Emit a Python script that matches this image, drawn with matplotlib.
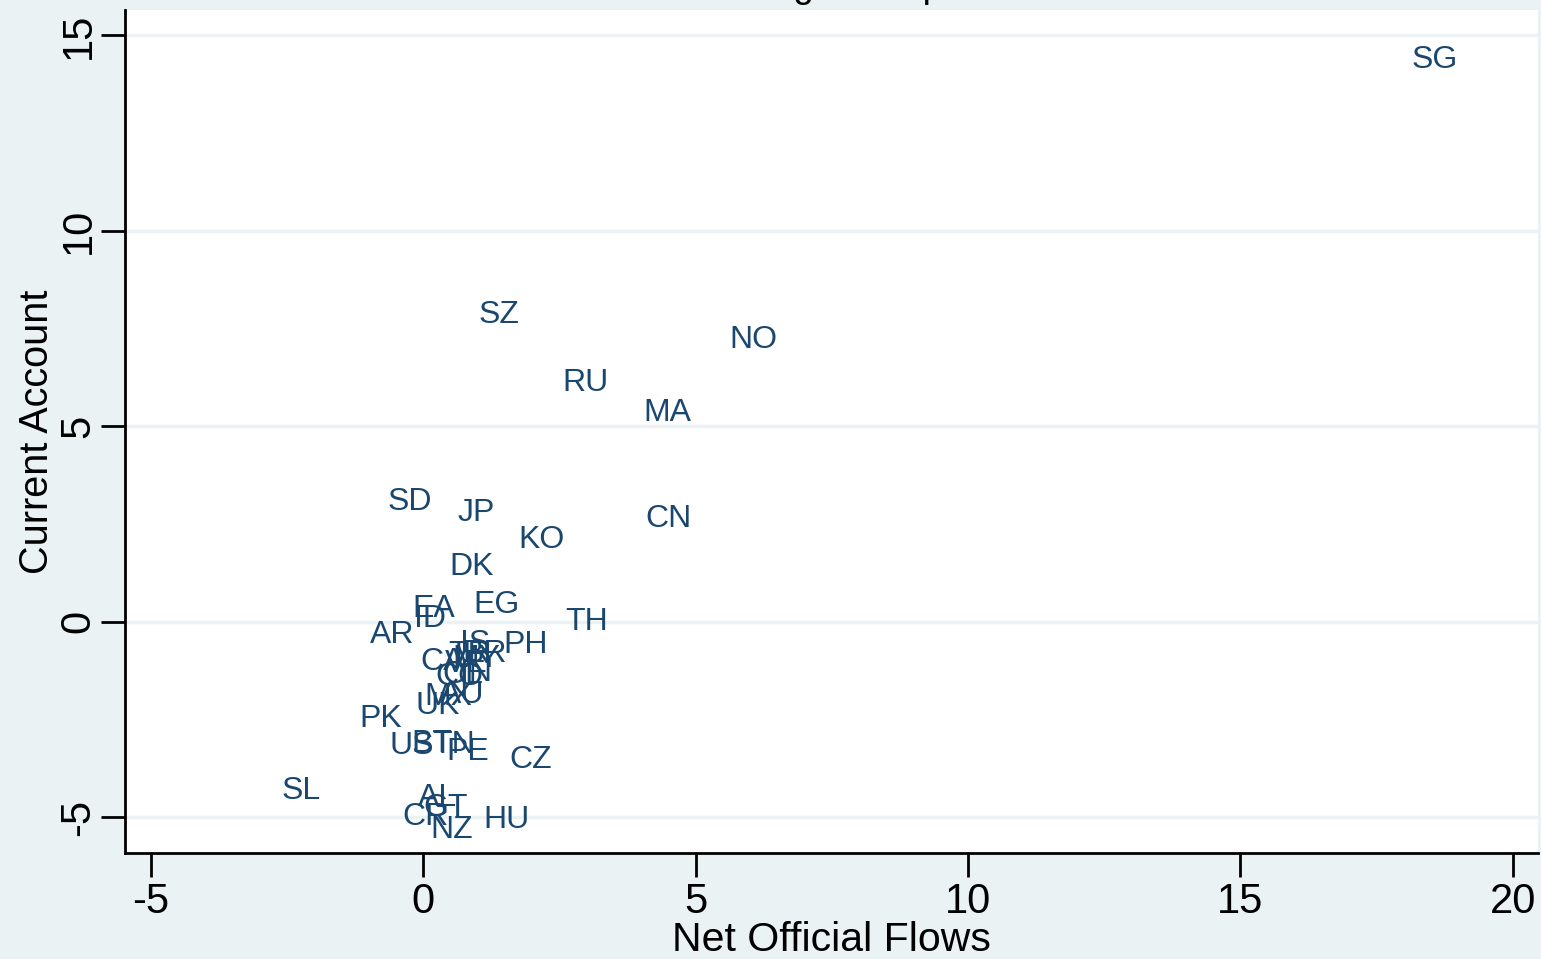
import matplotlib
matplotlib.use("Agg")
import matplotlib.pyplot as plt

plt.rcParams['font.family'] = ['Liberation Sans', 'DejaVu Sans']

countries = ["SG", "SZ", "NO", "RU", "MA", "SD", "JP", "CN", "KO", "DK",
             "EG", "EA", "ID", "AR", "TH", "IS", "PH", "CA", "TR", "MY",
             "BR", "VE", "CO", "CL", "IN", "MX", "UK", "AU", "PK", "US",
             "BT", "TN", "PE", "CZ", "SL", "AL", "GT", "CR", "NZ", "HU"]
net_official_flows = [18.07, 0.94, 5.54, 2.48, 3.96, -0.72, 0.55, 4.00, 1.67, 0.40,
                      0.84, -0.28, -0.24, -1.05, 2.53, 0.61, 1.39, -0.13, 0.39, 0.46,
                      0.64, 0.33, 0.15, 0.28, 0.61, -0.06, -0.22, 0.24, -1.25, -0.70,
                      -0.29, 0.09, 0.35, 1.50, -2.68, -0.17, -0.07, -0.46, 0.06, 1.03]
current_account = [14.42, 7.90, 7.26, 6.16, 5.40, 3.12, 2.84, 2.69, 2.15, 1.46,
                   0.49, 0.38, 0.13, -0.28, 0.05, -0.51, -0.54, -0.97, -0.79, -0.90,
                   -0.77, -1.02, -1.36, -1.30, -1.25, -1.87, -2.10, -1.82, -2.43, -3.12,
                   -3.07, -3.09, -3.27, -3.48, -4.27, -4.45, -4.71, -4.94, -5.27, -5.01]
x_ticks = [-5, 0, 5, 10, 15, 20]
y_ticks = [-5, 0, 5, 10, 15]

bg = "#EAF2F3"
navy = "#1a476f"

fig = plt.figure(figsize=(15.41, 9.59), dpi=100, facecolor=bg)
ax = fig.add_axes([125/1541, 1 - 853/959, (1538-125)/1541, (853-10)/959])
ax.set_facecolor("white")

ax.set_xlim(-5.47, 20.46)
ax.set_ylim(-5.91, 15.65)

for yt in y_ticks:
    ax.axhline(yt, color=bg, lw=2.5, zorder=0)

for c, xv, yv in zip(countries, net_official_flows, current_account):
    ax.annotate(c, (xv, yv), xytext=(3, -1.5), textcoords="offset points",
                ha="left", va="center", fontsize=23, color=navy)

ax.set_xticks(x_ticks)
ax.set_yticks(y_ticks)
ax.set_xticklabels([str(t) for t in x_ticks], fontsize=30)
ax.set_yticklabels([str(t) for t in y_ticks], fontsize=30, rotation=90, va="center")
ax.tick_params(axis="both", length=17, width=2, color="black")
ax.tick_params(axis="x", pad=4)
ax.tick_params(axis="y", pad=2)

for s in ["top", "right"]:
    ax.spines[s].set_visible(False)
for s in ["left", "bottom"]:
    ax.spines[s].set_linewidth(2)
    ax.spines[s].set_color("black")

ax.set_xlabel("Net Official Flows", fontsize=29.5, labelpad=-1)
ax.set_ylabel("Current Account", fontsize=28.5, labelpad=2)

fig.text(0.549, 1.003, "Excluding Oil Exporters", ha="center", va="baseline",
         fontsize=26.6, color="black")

fig.savefig("out.png", dpi=100, facecolor=bg)
